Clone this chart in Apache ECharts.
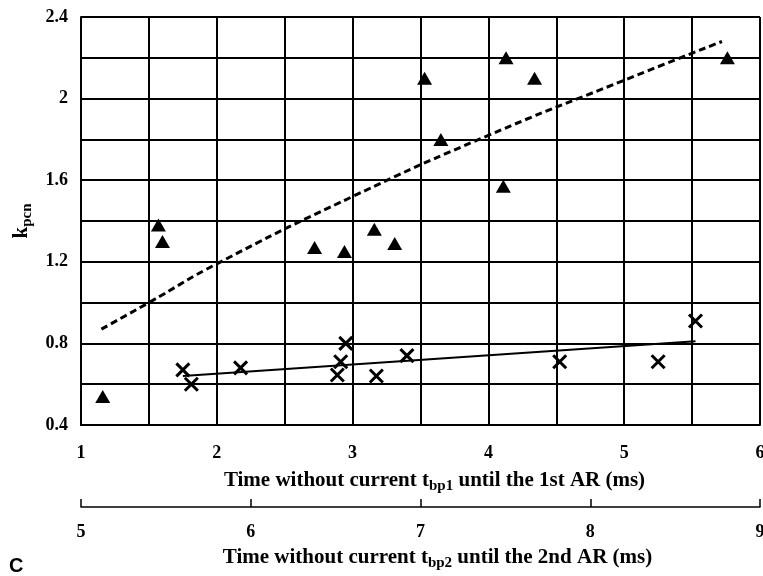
<!DOCTYPE html>
<html>
<head>
<meta charset="utf-8">
<script src="https://cdn.jsdelivr.net/npm/echarts@6/dist/echarts.min.js"></script>
<style>
  html, body { margin: 0; padding: 0; background: #fff; }
  #chart { width: 763px; height: 576px; }
</style>
</head>
<body>
<div id="chart"></div>
<script>
// values
var triangleX = [1.16, 1.57, 1.60, 2.72, 2.94, 3.16, 3.31, 3.53, 3.65, 4.11, 4.13, 4.34, 5.76];
var triangleY = [0.54, 1.38, 1.30, 1.27, 1.25, 1.36, 1.29, 2.10, 1.80, 1.57, 2.20, 2.10, 2.20];

var crossX = [5.60, 5.65, 5.94, 6.51, 6.53, 6.56, 6.74, 6.92, 7.82, 8.40, 8.62];
var crossY = [0.67, 0.60, 0.68, 0.645, 0.71, 0.80, 0.64, 0.74, 0.71, 0.71, 0.91];

// trend lines, points
var dashTrendX = [1.15, 1.5, 2, 3, 4, 5, 5.72];
var dashTrendY = [0.87, 1.00, 1.19, 1.52, 1.82, 2.09, 2.28];
var solidTrendX = [5.60, 8.62];
var solidTrendY = [0.64, 0.81];

function pairs(xs, ys) {
    return xs.map(function (x, i) { return [x, ys[i]]; });
}

var serif = 'Liberation Serif';
var nameRich = {
    n: { fontFamily: serif, fontSize: 21, color: '#000', fontWeight: 'bold' },
    s: { fontFamily: serif, fontSize: 15, color: '#000', fontWeight: 'bold', verticalAlign: 'bottom', padding: [12, 0, 0, 0] }
};
var chart = echarts.init(document.getElementById('chart'));
option = {
    backgroundColor: '#fff',
    animation: false,
    title: {
        text: 'C',
        left: 4,
        top: 551,
        textStyle: { fontFamily: 'Liberation Sans', fontWeight: 'bold', fontSize: 20, color: '#000' }
    },
    grid: { left: 81, right: 3, top: 17, bottom: 151, outerBoundsMode: 'none' },
    xAxis: [{
        type: 'value',
        min: 1,
        max: 6,
        interval: 0.5,
        position: 'bottom',
        axisLine: { lineStyle: { color: '#000', width: 2 } },
        axisTick: { show: false },
        splitLine: { lineStyle: { color: '#000', width: 2 } },
        axisLabel: {
            margin: 19,
            color: '#000',
            fontFamily: serif,
            fontWeight: 'bold',
            fontSize: 18,
            formatter: function (v) { return Math.abs(v - Math.round(v)) < 1e-6 ? String(Math.round(v)) : ''; }
        },
        name: '{n|Time without current t}{s|bp1}{n| until the 1st AR (ms)}',
        nameLocation: 'middle',
        nameGap: 42,
        nameTextStyle: { rich: nameRich, padding: [0, 0, 0, 28] }
    }, {
        type: 'value',
        min: 5,
        max: 9,
        interval: 1,
        position: 'bottom',
        offset: 82,
        axisLine: { lineStyle: { color: '#000', width: 1.5 } },
        axisTick: { inside: true, length: 8, lineStyle: { color: '#000', width: 1.5 } },
        splitLine: { show: false },
        axisLabel: {
            margin: 16,
            color: '#000',
            fontFamily: serif,
            fontWeight: 'bold',
            fontSize: 18
        },
        name: '{n|Time without current t}{s|bp2}{n| until the 2nd AR (ms)}',
        nameLocation: 'middle',
        nameGap: 37,
        nameTextStyle: { rich: nameRich, padding: [0, 0, 0, 34] }
    }],
    yAxis: {
        type: 'value',
        min: 0.4,
        max: 2.4,
        interval: 0.2,
        axisLine: { show: true, lineStyle: { color: '#000', width: 2 } },
        axisTick: { show: false },
        splitLine: { lineStyle: { color: '#000', width: 2 } },
        axisLabel: {
            margin: 13,
            color: '#000',
            fontFamily: serif,
            fontWeight: 'bold',
            fontSize: 18,
            formatter: function (v) {
                var k = Math.round(v / 0.4 * 1000) / 1000;
                return Math.abs(k - Math.round(k)) < 1e-6 ? String(Math.round(v * 10) / 10) : '';
            }
        },
        name: '{n|k}{s|pcn}',
        nameLocation: 'middle',
        nameGap: 46,
        nameMoveOverlap: false,
        nameTextStyle: { rich: nameRich }
    },
    series: [{
        name: 'tbp1',
        type: 'scatter',
        xAxisIndex: 0,
        symbol: 'triangle',
        symbolSize: [15, 13],
        itemStyle: { color: '#000', opacity: 1 },
        data: pairs(triangleX, triangleY),
        z: 5
    }, {
        name: 'tbp2',
        type: 'scatter',
        xAxisIndex: 1,
        symbol: 'path://M0,0L10,10M10,0L0,10',
        symbolSize: 13,
        itemStyle: { color: 'none', borderColor: '#000', borderWidth: 3, opacity: 1 },
        data: pairs(crossX, crossY),
        z: 5
    }, {
        name: 'trend tbp1',
        type: 'line',
        xAxisIndex: 0,
        smooth: true,
        showSymbol: false,
        lineStyle: { color: '#000', width: 3, type: [7, 4] },
        data: pairs(dashTrendX, dashTrendY),
        z: 4
    }, {
        name: 'trend tbp2',
        type: 'line',
        xAxisIndex: 1,
        showSymbol: false,
        lineStyle: { color: '#000', width: 2 },
        data: pairs(solidTrendX, solidTrendY),
        z: 4
    }]
};
chart.setOption(option);
</script>
</body>
</html>
